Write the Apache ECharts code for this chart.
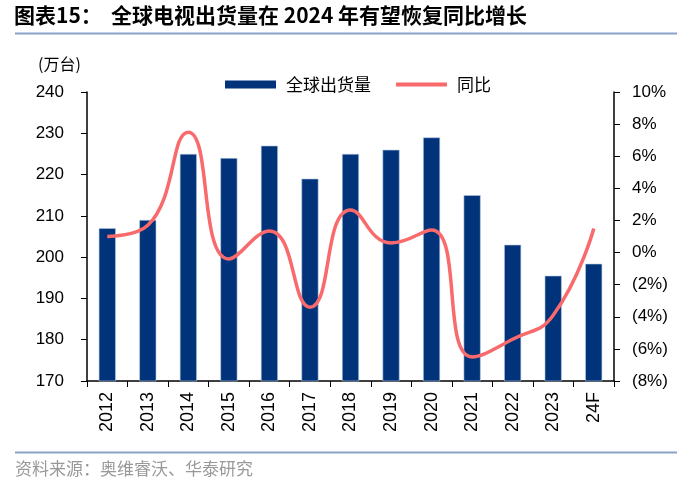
<!DOCTYPE html>
<html><head><meta charset="utf-8">
<script src="https://cdn.jsdelivr.net/npm/echarts@6/dist/echarts.min.js"></script>
<style>html,body{margin:0;padding:0;background:#fff}#c{width:700px;height:486px}</style>
</head><body><div id="c"></div>
<script>
var categories = ['2012','2013','2014','2015','2016','2017','2018','2019','2020','2021','2022','2023','24F'];
var shipments = [207, 209, 225, 224, 227, 219, 225, 226, 229, 215, 203, 195.5, 198.4];
var yoy = [1.0, 1.7, 7.5, -0.4, 1.35, -3.4, 2.65, 0.6, 1.4, -6.5, -5.4, -3.9, 1.5];
var leftTicks = [170, 240, 10];
var rightTicks = [-8, 10, 2];

var chart = echarts.init(document.getElementById('c'), null, {renderer: 'canvas'});
var cjk = '"Noto Sans CJK SC", sans-serif';
var lat = '"Liberation Sans", Arial, sans-serif';
chart.setOption({
  animation: false,
  graphic: [
    {type: 'text', left: 14, top: 5, style: {text: '图表15：', font: 'bold 21px ' + cjk, fill: '#000'}},
    {type: 'text', left: 111, top: 5, style: {text: '全球电视出货量在 2024 年有望恢复同比增长', font: 'bold 21px ' + cjk, fill: '#000'}},
    {type: 'line', shape: {x1: 15, y1: 33.5, x2: 677, y2: 33.5}, style: {stroke: '#8aa4c8', lineWidth: 2}},
    {type: 'text', left: 38, top: 56, style: {text: '(万台)', font: '16px ' + cjk, fill: '#000'}},
    {type: 'line', shape: {x1: 15, y1: 452.5, x2: 677, y2: 452.5}, style: {stroke: '#8aa4c8', lineWidth: 2}},
    {type: 'text', left: 15, top: 460, style: {text: '资料来源：奥维睿沃、华泰研究', font: '17px ' + cjk, fill: '#999'}}
  ],
  legend: {
    top: 71, left: 220,
    itemGap: 25,
    textStyle: {fontFamily: cjk, fontSize: 17, color: '#000', padding: [0, 0, 0, 5]},
    data: [
      {name: '全球出货量', icon: 'rect', itemStyle: {borderWidth: 0}},
      {name: '同比', icon: 'path://M0,0h51v4h-51z', itemStyle: {color: '#F86A6C'}}
    ],
    itemWidth: 51, itemHeight: 8
  },
  grid: {left: 87, right: 86, top: 92, bottom: 105},
  xAxis: {
    type: 'category', data: categories,
    axisLine: {onZero: false, lineStyle: {color: '#000', width: 1.5}},
    axisTick: {show: true, length: 6, lineStyle: {color: '#000'}},
    axisLabel: {rotate: 90, fontFamily: lat, fontSize: 18, color: '#000', margin: 11}
  },
  yAxis: [
    {type: 'value', min: leftTicks[0], max: leftTicks[1], interval: leftTicks[2],
     splitLine: {show: false},
     axisLine: {show: true, lineStyle: {color: '#000', width: 1.5}},
     axisTick: {show: true, length: 6, lineStyle: {color: '#000'}},
     axisLabel: {fontFamily: lat, fontSize: 17, color: '#000', margin: 23}},
    {type: 'value', min: rightTicks[0], max: rightTicks[1], interval: rightTicks[2],
     splitLine: {show: false},
     axisLine: {show: true, lineStyle: {color: '#000', width: 1.5}},
     axisTick: {show: true, length: 6, lineStyle: {color: '#000'}},
     axisLabel: {fontFamily: lat, fontSize: 17, color: '#000', margin: 18,
       formatter: function (v) { return v < 0 ? '(' + Math.abs(v) + '%)' : v + '%'; }}}
  ],
  series: [
    {name: '全球出货量', type: 'bar', data: shipments, barWidth: 17,
     itemStyle: {color: '#00337A', borderColor: '#b5c8e0', borderWidth: 0.6}},
    {name: '同比', type: 'line', yAxisIndex: 1, data: yoy, smooth: 0.5,
     symbol: 'none', lineStyle: {color: '#F86A6C', width: 3.5}, itemStyle: {color: '#F86A6C'}}
  ]
});
</script></body></html>
